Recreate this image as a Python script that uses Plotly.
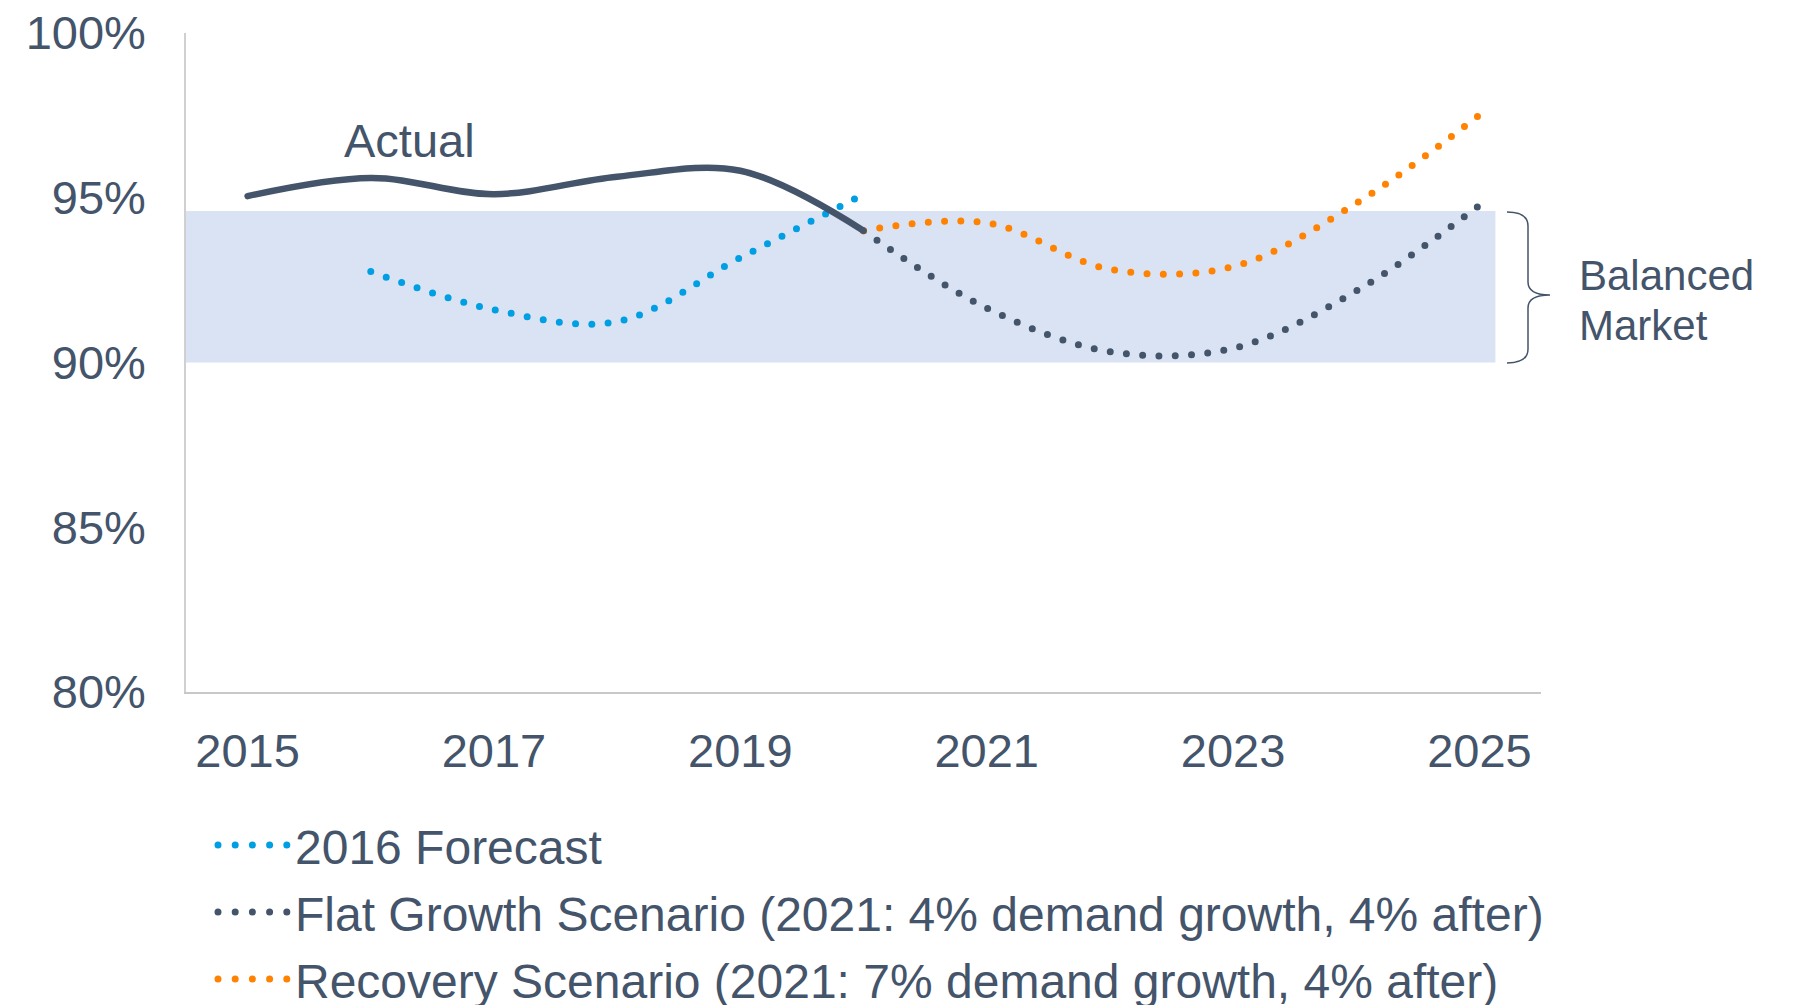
import plotly.graph_objects as go

# values (% utilisation)
years_actual = [2015, 2016, 2017, 2018, 2019, 2020]
actual = [95.05, 95.6, 95.11, 95.64, 95.82, 94.0]

years_fc = [2016, 2017, 2018, 2019, 2020]
forecast_2016 = [92.76, 91.6, 91.24, 93.18, 95.1]

years_scen = [2020, 2021, 2022, 2023, 2024, 2025]
flat_growth = [94.0, 91.65, 90.33, 90.43, 92.17, 94.77]
recovery = [94.0, 94.24, 92.83, 92.91, 94.83, 97.51]

balanced_band = [90, 94.6]

legend_names = [
    "2016 Forecast",
    "Flat Growth Scenario (2021: 4% demand growth, 4% after)",
    "Recovery Scenario (2021: 7% demand growth, 4% after)",
]

DARK = "#44546A"
BLUE = "#009FE3"
ORANGE = "#FF8200"
BAND = "#DAE3F3"
FONT = "Arial, Liberation Sans, sans-serif"
DOTS = "0px,16.3px"

fig = go.Figure()

fig.add_trace(go.Scatter(x=years_fc, y=forecast_2016, mode="lines",
                         line=dict(color=BLUE, width=7, dash=DOTS, shape="spline"),
                         name=legend_names[0]))
fig.add_trace(go.Scatter(x=years_scen, y=flat_growth, mode="lines",
                         line=dict(color=DARK, width=7, dash=DOTS, shape="spline"),
                         name=legend_names[1]))
fig.add_trace(go.Scatter(x=years_scen, y=recovery, mode="lines",
                         line=dict(color=ORANGE, width=7, dash=DOTS, shape="spline"),
                         name=legend_names[2]))
fig.add_trace(go.Scatter(x=years_actual, y=actual, mode="lines",
                         line=dict(color=DARK, width=6.5, shape="spline"),
                         name="Actual"))

# balanced market band
fig.add_shape(type="rect", xref="x", yref="y", x0=2014.5, x1=2025.13,
              y0=balanced_band[0], y1=balanced_band[1],
              fillcolor=BAND, line_width=0, layer="below")

# curly brace next to band (paper coords)
def px(x):
    return (x - 186) / 1355

def py(y):
    return (692 - y) / 659

brace = (f"M {px(1507)},{py(212)} Q {px(1528)},{py(212)} {px(1528)},{py(226)} "
         f"L {px(1528)},{py(282)} Q {px(1528)},{py(295)} {px(1550)},{py(295)} "
         f"Q {px(1528)},{py(295)} {px(1528)},{py(308)} "
         f"L {px(1528)},{py(349)} Q {px(1528)},{py(363)} {px(1507)},{py(363)}")
fig.add_shape(type="path", xref="paper", yref="paper", path=brace,
              line=dict(color=DARK, width=1.5))

for word, yy in [("Balanced", 275), ("Market", 326)]:
    fig.add_annotation(x=px(1577), y=py(yy), xref="paper", yref="paper",
                       text=word, showarrow=False, align="left",
                       xanchor="left", yanchor="middle",
                       font=dict(size=42, color=DARK, family=FONT))

fig.add_annotation(x=2015.77, y=96.74, text="Actual", showarrow=False,
                   xanchor="left", yanchor="middle",
                   font=dict(size=47, color=DARK, family=FONT))

# legend drawn by hand (long dotted symbols)
legend_colors = [BLUE, DARK, ORANGE]
legend_y = [845, 912, 979]
for name, col, yy in zip(legend_names, legend_colors, legend_y):
    fig.add_shape(type="line", xref="paper", yref="paper",
                  x0=px(218), x1=px(287.5), y0=py(yy), y1=py(yy),
                  line=dict(color=col, width=7, dash="0px,17.2px"))
    fig.add_annotation(x=px(293), y=py(yy + 2), xref="paper", yref="paper",
                       text=name, showarrow=False, xanchor="left", yanchor="middle",
                       font=dict(size=48, color=DARK, family=FONT))

fig.update_layout(
    width=1806, height=1005,
    margin=dict(l=186, r=265, t=33, b=313),
    plot_bgcolor="white", paper_bgcolor="white",
    showlegend=False,
    font=dict(family=FONT, size=47, color=DARK),
)
fig.update_xaxes(range=[2014.5, 2025.5], tick0=2015, dtick=2, showgrid=False,
                 showline=True, linecolor="#C8C8C8", linewidth=2, ticks="",
                 zeroline=False, ticklabelstandoff=17, automargin=False)
fig.update_yaxes(range=[80, 100], dtick=5, ticksuffix="%", showgrid=False,
                 showline=True, linecolor="#D0D0D0", linewidth=1.5, ticks="",
                 zeroline=False, ticklabelstandoff=29, automargin=False)

# page margin off, round dots for the dotted lines
post = """
document.body.style.margin = '0';
document.querySelectorAll('path').forEach(function(p){
  var d = p.style.strokeDasharray || '';
  if (d.indexOf('0px') === 0 || p.classList.contains('js-line')) {
    p.style.strokeLinecap = 'round';
  }
});
"""
fig.write_html("out.html", post_script=post, config={"displayModeBar": False})
